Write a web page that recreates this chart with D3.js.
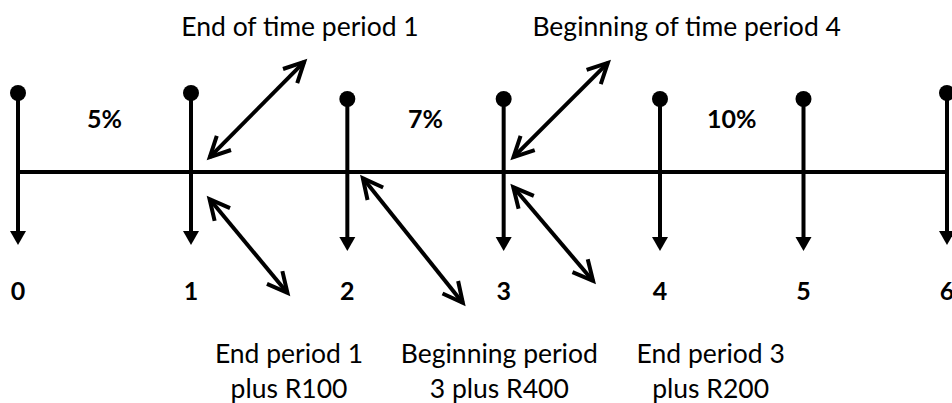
<!DOCTYPE html>
<html lang="en">
<head>
    <meta charset="UTF-8">
    <title>Time line</title>
    <script src="https://cdn.jsdelivr.net/npm/d3@7"></script>
    <style>
        html, body {
            margin: 0;
            padding: 0;
            background: #ffffff;
        }

        svg {
            display: block;
        }

        text {
            font-family: Lato, "Open Sans", sans-serif;
            fill: #000000;
        }

        text.num {
            font-weight: 700;
            font-size: 25px;
            text-anchor: middle;
        }

        text.note {
            font-size: 26.5px;
            text-anchor: middle;
        }
    </style>
</head>
<body>
<div id="chart"></div>
<script>
    // periods on the time line
    let periods = [0, 1, 2, 3, 4, 5, 6];

    // interest rates and the periods they run between
    let rateLabels = ["5%", "7%", "10%"];
    let rateFrom = [0, 2, 4];
    let rateTo = [1, 3, 5];

    // notes: text, the period they point at, above or below the line
    let noteText = [
        ["End of time period 1"],
        ["End period 1", "plus R100"],
        ["Beginning period", "3 plus R400"],
        ["Beginning of time period 4"],
        ["End period 3", "plus R200"]
    ];
    let notePeriod = [1, 1, 2, 3, 3];
    let noteSide = ["above", "below", "below", "above", "below"];

    let width = 952, height = 403;
    let axisY = 172;
    let ink = "#000000";

    // hand drawn spacing, so a piecewise scale
    let x = d3.scaleLinear().domain([0, 1, 4, 6]).range([18, 191, 660, 947]);

    // the stems at 0, 1 and 6 sit a little higher in the drawing
    function lift(p) {
        return (p <= 1 || p === 6) ? 6 : 0;
    }

    // arrow offsets from the stem / line, and the label offset (layout only)
    let noteLayout = [
        {ax0: 16, ay0: -12, ax1: 116, ay1: -113, tx: 109},
        {ax0: 16, ay0: 24, ax1: 99, ay1: 124, tx: 98},
        {ax0: 13, ay0: 3, ax1: 118, ay1: 134, tx: 152},
        {ax0: 7, ay0: -12, ax1: 107, ay1: -112, tx: 183},
        {ax0: 7, ay0: 12, ax1: 92, ay1: 112, tx: 207}
    ];

    let svg = d3.select("#chart").append("svg")
        .attr("width", width)
        .attr("height", height);

    svg.append("defs").append("marker")
        .attr("id", "chev")
        .attr("markerUnits", "userSpaceOnUse")
        .attr("viewBox", "-26 -14 30 28")
        .attr("markerWidth", 30)
        .attr("markerHeight", 28)
        .attr("refX", 0)
        .attr("refY", 0)
        .attr("orient", "auto-start-reverse")
        .style("overflow", "visible")
        .append("path")
        .attr("d", "M-20,-10L0,0L-20,10")
        .attr("fill", "none")
        .attr("stroke", ink)
        .attr("stroke-width", 4);

    // main line
    svg.append("line")
        .attr("x1", x(periods[0]))
        .attr("x2", x(periods[periods.length - 1]))
        .attr("y1", axisY)
        .attr("y2", axisY)
        .attr("stroke", ink)
        .attr("stroke-width", 4);

    // stems
    let stem = svg.selectAll("g.stem")
        .data(periods)
        .enter()
        .append("g")
        .attr("class", "stem")
        .attr("transform", function (d) {
            return "translate(" + x(d) + "," + (axisY - lift(d)) + ")";
        });

    stem.append("line")
        .attr("x1", 0).attr("x2", 0)
        .attr("y1", -73).attr("y2", 66)
        .attr("stroke", ink)
        .attr("stroke-width", 4);

    stem.append("circle")
        .attr("cx", 0)
        .attr("cy", -73)
        .attr("r", 8)
        .attr("fill", ink);

    stem.append("path")
        .attr("d", "M-8,65L8,65L0,79Z")
        .attr("fill", ink);

    // period numbers
    svg.selectAll("text.period")
        .data(periods)
        .enter()
        .append("text")
        .attr("class", "num period")
        .attr("x", function (d) {
            return x(d);
        })
        .attr("y", 300)
        .text(function (d) {
            return d;
        });

    // rates
    svg.selectAll("text.rate")
        .data(rateLabels)
        .enter()
        .append("text")
        .attr("class", "num rate")
        .attr("x", function (d, i) {
            return (x(rateFrom[i]) + x(rateTo[i])) / 2;
        })
        .attr("y", 128)
        .text(function (d) {
            return d;
        });

    // notes with double headed arrows
    let notes = noteText.map(function (t, i) {
        return {lines: t, period: notePeriod[i], side: noteSide[i], lay: noteLayout[i]};
    });

    let note = svg.selectAll("g.note")
        .data(notes)
        .enter()
        .append("g")
        .attr("class", "note");

    note.append("line")
        .each(function (d) {
            let px = x(d.period);
            let x0 = px + d.lay.ax0, y0 = axisY + d.lay.ay0;
            let x1 = px + d.lay.ax1, y1 = axisY + d.lay.ay1;
            let len = Math.hypot(x1 - x0, y1 - y0);
            let ux = (x1 - x0) / len, uy = (y1 - y0) / len;
            // pull the ends in so the chevron tips land on the measured points
            d3.select(this)
                .attr("x1", x0 + ux * 4).attr("y1", y0 + uy * 4)
                .attr("x2", x1 - ux * 4).attr("y2", y1 - uy * 4);
        })
        .attr("stroke", ink)
        .attr("stroke-width", 4)
        .attr("marker-start", "url(#chev)")
        .attr("marker-end", "url(#chev)");

    note.each(function (d) {
        let g = d3.select(this);
        let cx = x(d.period) + d.lay.tx;
        d.lines.forEach(function (line, j) {
            g.append("text")
                .attr("class", "note")
                .attr("x", cx)
                .attr("y", d.side === "above" ? axisY - 136 : axisY + 191 + j * 35)
                .text(line);
        });
    });
</script>
</body>
</html>
